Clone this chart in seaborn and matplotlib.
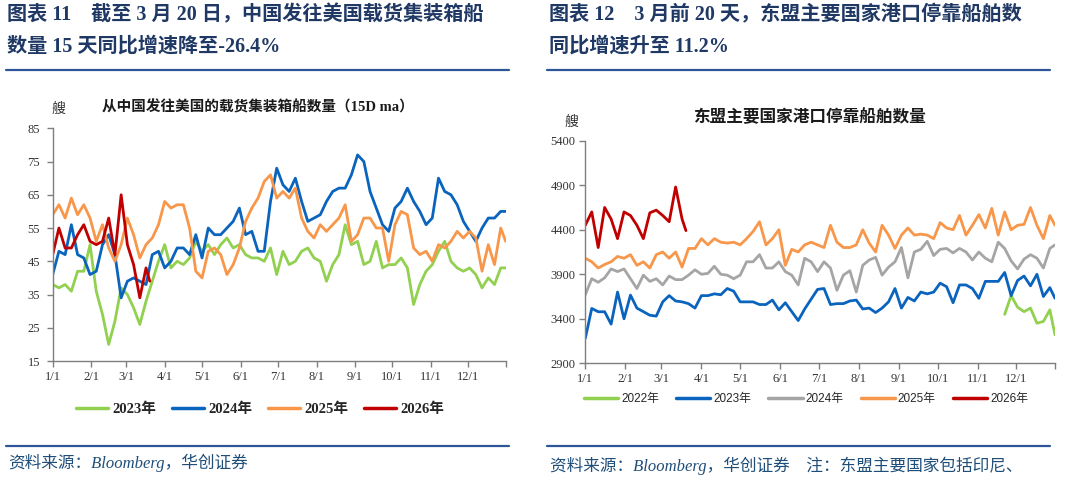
import pandas as pd
import seaborn as sns
import matplotlib.pyplot as plt
from matplotlib.lines import Line2D

days_full = list(range(0, 361, 5)) + [364]
days_2026 = list(range(0, 76, 5)) + [78]
days_2022 = list(range(325, 361, 5)) + [364]

# left: China -> US laden container ships (15D ma)
cn_2023 = [38, 37, 38, 36, 42, 42, 50, 36, 29, 20, 27, 37, 35, 31, 26, 33, 39, 45, 50, 43,
           45, 44, 46, 51, 48, 50, 47, 50, 52, 49, 50, 47, 46, 46, 45, 49, 41,
           48, 44, 45, 48, 49, 46, 45, 39, 44, 47, 56, 50, 51, 44, 45, 51, 43, 44, 44, 46,
           43, 32, 38, 42, 44, 48, 51, 45, 43, 42, 43, 41, 37, 40, 38, 43, 43]
cn_2024 = [41, 48, 47, 56, 47, 46, 41, 42, 50, 53, 47, 34, 39, 40, 39, 38, 47, 48, 43, 45,
           49, 49, 47, 53, 46, 55, 53, 53, 55, 57, 61, 53, 54, 48, 48, 63, 73,
           68, 66, 70, 63, 57, 58, 59, 63, 66, 67, 67, 71, 77, 75, 66, 61, 56, 54, 61, 63,
           67, 63, 60, 56, 58, 70, 66, 65, 62, 57, 54, 51, 55, 58, 58, 60, 60]
cn_2025 = [59, 62, 58, 64, 59, 62, 58, 51, 56, 49, 45, 50, 58, 53, 46, 50, 52, 56, 63, 61,
           62, 62, 55, 42, 40, 48, 49, 47, 41, 44, 49, 57, 61, 64, 69, 71, 64,
           66, 64, 67, 58, 54, 52, 56, 54, 56, 58, 62, 51, 53, 58, 58, 55, 55, 45, 56, 60,
           59, 49, 47, 48, 45, 50, 49, 51, 54, 52, 54, 52, 42, 50, 44, 55, 51]
cn_2026 = [47, 55, 49, 49, 53, 56, 51, 50, 51, 58, 47, 65, 50, 44, 34, 43, 39]

# right: ASEAN major ports, ships in port
as_2022 = [3450, 3660, 3530, 3480, 3520, 3350, 3370, 3500, 3220]
as_2023 = [3180, 3516, 3479, 3479, 3340, 3700, 3400, 3666, 3520, 3480, 3440, 3430, 3590,
           3660, 3600, 3590, 3570, 3520, 3660, 3660, 3680, 3670, 3740, 3710, 3590, 3590,
           3590, 3560, 3560, 3610, 3500, 3580, 3480, 3380, 3510, 3620, 3730,
           3740, 3560, 3570, 3570, 3600, 3610, 3510, 3520, 3470, 3520, 3590, 3740, 3520,
           3640, 3600, 3700, 3680, 3700, 3800, 3760, 3580, 3780, 3780, 3740, 3630, 3820,
           3820, 3820, 3920, 3660, 3830, 3880, 3770, 3900, 3650, 3750, 3630]
as_2024 = [3670, 3850, 3810, 3860, 3960, 3930, 3960, 3850, 3740, 3890, 3820, 3850, 3780,
           3880, 3840, 3840, 3890, 3950, 3900, 3910, 3990, 3900, 3890, 3850, 3890, 4040,
           4040, 4120, 3970, 3970, 4040, 3930, 3890, 3780, 4080, 4040, 3930,
           4040, 3970, 3720, 3890, 3940, 3700, 4000, 4060, 4090, 3890, 3980, 4040, 4200,
           3860, 4150, 4180, 4270, 4110, 4180, 4190, 4140, 4190, 4150, 4060, 4150, 4080,
           4040, 4260, 4190, 4050, 3960, 4070, 4120, 4080, 3970, 4190, 4230]
as_2025 = [4080, 4040, 3970, 4010, 4040, 4100, 4080, 4120, 4000, 4040, 3970, 4120, 4150,
           4080, 4150, 3980, 4190, 4190, 4300, 4230, 4300, 4260, 4250, 4260, 4230, 4300,
           4380, 4490, 4230, 4300, 4400, 4000, 4180, 4150, 4230, 4260, 4230,
           4200, 4450, 4260, 4200, 4200, 4230, 4400, 4250, 4150, 4450, 4340, 4190, 4340,
           4420, 4340, 4350, 4340, 4300, 4480, 4420, 4400, 4560, 4340, 4450, 4570, 4420,
           4640, 4340, 4600, 4400, 4450, 4460, 4650, 4450, 4300, 4560, 4450]
as_2026 = [4450, 4600, 4200, 4650, 4520, 4300, 4600, 4560, 4450, 4300, 4590, 4620, 4560,
           4490, 4880, 4520, 4390]

month_days = [0, 31, 59, 90, 120, 151, 181, 212, 243, 273, 304, 334]
month_labels = ['1/1', '2/1', '3/1', '4/1', '5/1', '6/1', '7/1', '8/1', '9/1', '10/1', '11/1', '12/1']

left_series = [('2023年', days_full, cn_2023, '#92D050'),
               ('2024年', days_full, cn_2024, '#0A64BE'),
               ('2025年', days_full, cn_2025, '#F8964A'),
               ('2026年', days_2026, cn_2026, '#C00000')]
right_series = [('2022年', days_2022, as_2022, '#92D050'),
                ('2023年', days_full, as_2023, '#0A64BE'),
                ('2024年', days_full, as_2024, '#A5A5A5'),
                ('2025年', days_full, as_2025, '#F8964A'),
                ('2026年', days_2026, as_2026, '#C00000')]

sns.set_style('white')
plt.rcParams['font.family'] = ['Liberation Serif', 'Noto Sans CJK SC']
plt.rcParams['axes.unicode_minus'] = False

W, H = 1066, 483
fig = plt.figure(figsize=(W / 100, H / 100), dpi=100)


def fx(x):
    return x / W


def fy(y):
    return 1 - y / H


def draw(ax, series, ylim, yticks):
    df = pd.concat([pd.DataFrame({'day': d, 'value': v, 'year': name})
                    for name, d, v, c in series])
    pal = {name: c for name, d, v, c in series}
    sns.lineplot(data=df, x='day', y='value', hue='year', palette=pal,
                 linewidth=2.0, legend=False, estimator=None, sort=True, ax=ax)
    ax.set_xlim(0, 364)
    ax.set_ylim(*ylim)
    ax.set_yticks(yticks)
    ax.set_xticks(month_days + [364])
    ax.set_xticklabels(month_labels + [''])
    ax.set_xlabel('')
    ax.set_ylabel('')
    for s in ['top', 'right']:
        ax.spines[s].set_visible(False)
    for s in ['left', 'bottom']:
        ax.spines[s].set_color('#7F7F7F')
        ax.spines[s].set_linewidth(1.0)
    ax.tick_params(axis='both', direction='out', length=4, width=1.0, color='#7F7F7F',
                   labelsize=9, labelcolor='#333333', pad=3, left=True, bottom=True)
    return [Line2D([], [], color=c, lw=2.5) for name, d, v, c in series], [s[0] for s in series]


# ---- left chart ----
ax1 = fig.add_axes([fx(52.7), fy(361), fx(505.7) - fx(52.7), fy(128.3) - fy(361)])
h1, l1 = draw(ax1, left_series, (15, 85), [15, 25, 35, 45, 55, 65, 75, 85])
ax1.tick_params(axis='y', pad=5)

# ---- right chart ----
ax2 = fig.add_axes([fx(585.3), fy(363.3), fx(1055) - fx(585.3), fy(140.7) - fy(363.3)])
h2, l2 = draw(ax2, right_series, (2900, 5400), [2900, 3400, 3900, 4400, 4900, 5400])

navy = '#1F3864'
hsize = 14.5
# headers
fig.text(fx(7), fy(15), '图表 11    截至 3 月 20 日，中国发往美国载货集装箱船',
         fontsize=hsize, fontweight='bold', color=navy, ha='left', va='center')
fig.text(fx(7), fy(47), '数量 15 天同比增速降至-26.4%',
         fontsize=hsize, fontweight='bold', color=navy, ha='left', va='center')
fig.text(fx(549), fy(15), '图表 12    3 月前 20 天，东盟主要国家港口停靠船舶数',
         fontsize=hsize, fontweight='bold', color=navy, ha='left', va='center')
fig.text(fx(549), fy(47), '同比增速升至 11.2%',
         fontsize=hsize, fontweight='bold', color=navy, ha='left', va='center')

rule = '#2E5597'
for x0, x1 in [(6, 509), (547, 1050)]:
    fig.add_artist(Line2D([fx(x0), fx(x1)], [fy(70), fy(70)], color=rule, lw=1.6))
    fig.add_artist(Line2D([fx(x0), fx(x1)], [fy(446), fy(446)], color=rule, lw=1.6))

# chart titles and units
fig.text(fx(258), fy(107), '从中国发往美国的载货集装箱船数量（15D ma）',
         fontsize=10.5, fontweight='bold', color='#1A1A1A', ha='center', va='center')
fig.text(fx(809), fy(118), '东盟主要国家港口停靠船舶数量',
         fontsize=12, fontweight='bold', color='#1A1A1A', ha='center', va='center')
fig.text(fx(58), fy(109), '艘', fontsize=10, color='#333333', ha='center', va='center')
fig.text(fx(571), fy(122), '艘', fontsize=10, color='#333333', ha='center', va='center')

# legends
fig.legend(h1, l1, loc='center', bbox_to_anchor=(fx(260), fy(409)), ncol=4, frameon=False,
           prop={'weight': 'bold', 'size': 10.5}, handlelength=2.2, handletextpad=0.27,
           columnspacing=1.1)
fig.legend(h2, l2, loc='center', bbox_to_anchor=(fx(806), fy(399)), ncol=5, frameon=False,
           prop={'family': ['Liberation Sans', 'Noto Sans CJK SC'], 'size': 8.5},
           handlelength=2.9, handletextpad=0.25, columnspacing=1.45)

# sources
src = '#1F4E79'
fig.text(fx(8), fy(463), '资料来源：Bloomberg，华创证券', fontsize=12, style='italic',
         color=src, ha='left', va='center')
fig.text(fx(550), fy(466), '资料来源：Bloomberg，华创证券　注：东盟主要国家包括印尼、',
         fontsize=12, style='italic', color=src, ha='left', va='center')

fig.savefig('out.png', dpi=100)
